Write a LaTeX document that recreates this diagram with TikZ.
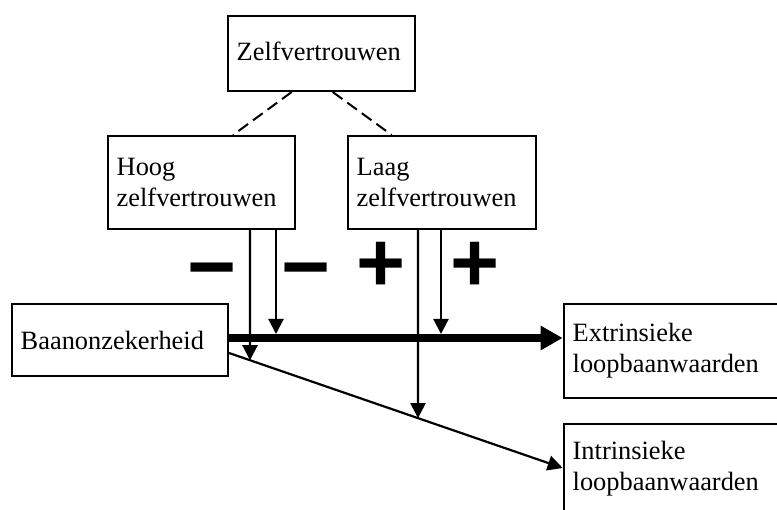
\documentclass[tikz,border=0pt]{standalone}
\usepackage{fontspec}
\setmainfont{Liberation Serif}
\newfontfamily\signfont{Liberation Sans}
\usetikzlibrary{arrows.meta}
\begin{document}
\begin{tikzpicture}[x=1pt,y=-1pt,
  box/.style={draw, line width=2pt, inner xsep=9pt, inner ysep=0pt, align=left,
    anchor=north west, font=\fontsize{26.4}{31}\selectfont},
  dashline/.style={line width=2pt, dash pattern=on 12pt off 6pt},
  arr/.style={line width=2.2pt, -{Triangle[length=15pt,width=15pt]}},
  bigarr/.style={line width=8pt, -{Triangle[length=22pt,width=23pt]}},
  sign/.style={font=\signfont\bfseries\fontsize{84}{84}\selectfont, inner sep=0pt}]
\clip (0,0) rectangle (777,510);
\useasboundingbox (0,0) rectangle (777,510);
\fill[white] (0,0) rectangle (777,510);
% boxes
\node[box, minimum width=187.3pt, text width=169.3pt, minimum height=75pt] (z) at (226.7,15) {\raisebox{4pt}{Zelfvertrouwen}};
\node[box, minimum width=187.3pt, text width=169.3pt, minimum height=93pt] (h) at (106.7,135) {Hoog\\zelfvertrouwen};
\node[box, minimum width=188.3pt, text width=170.3pt, minimum height=93pt] (l) at (346.7,135) {Laag\\zelfvertrouwen};
\node[box, minimum width=216.3pt, text width=198.3pt, minimum height=72pt] (b) at (10.7,303) {Baanonzekerheid};
\node[box, minimum width=230pt, text width=212pt, minimum height=93.7pt] (e) at (562.7,303) {Extrinsieke\\loopbaanwaarden};
\node[box, minimum width=230pt, text width=212pt, minimum height=90pt] (i) at (562.7,423) {Intrinsieke\\loopbaanwaarden};
% dashed links
\draw[dashline] ([xshift=65pt]z.south west) -- ([xshift=126.3pt]h.north west);
\draw[dashline] ([xshift=106pt]z.south west) -- ([xshift=45pt]l.north west);
% main paths
\coordinate (s1) at ([yshift=2pt]b.east);
\coordinate (e1) at (e.west |- s1);
\coordinate (s2) at ([yshift=-13pt]b.east);
\coordinate (e2) at ([yshift=1pt]i.west);
\draw[bigarr] (s1) -- (e1);
\draw[arr] (s2) -- (e2);
% moderator arrows
\coordinate (h1) at ([xshift=143.3pt]h.south west);
\coordinate (h2) at ([xshift=169.3pt]h.south west);
\coordinate (l1) at ([xshift=71.3pt]l.south west);
\coordinate (l2) at ([xshift=94.3pt]l.south west);
\coordinate (h1d) at ([yshift=-300pt]h1);
\coordinate (l1d) at ([yshift=-300pt]l1);
\coordinate (top) at ([yshift=4pt]s1);
\draw[arr] (h2) -- (h2 |- top);
\draw[arr] (l2) -- (l2 |- top);
\draw[arr] (h1) -- (intersection of s2--e2 and h1--h1d);
\draw[arr] (l1) -- (intersection of s2--e2 and l1--l1d);
% signs
\node[sign] (m1) at (212,279) {−};
\node[sign] (m2) at (306,279) {−};
\node[sign] (p1) at (381,267) {+};
\node[sign] (p2) at (475,267) {+};
\end{tikzpicture}
\end{document}
